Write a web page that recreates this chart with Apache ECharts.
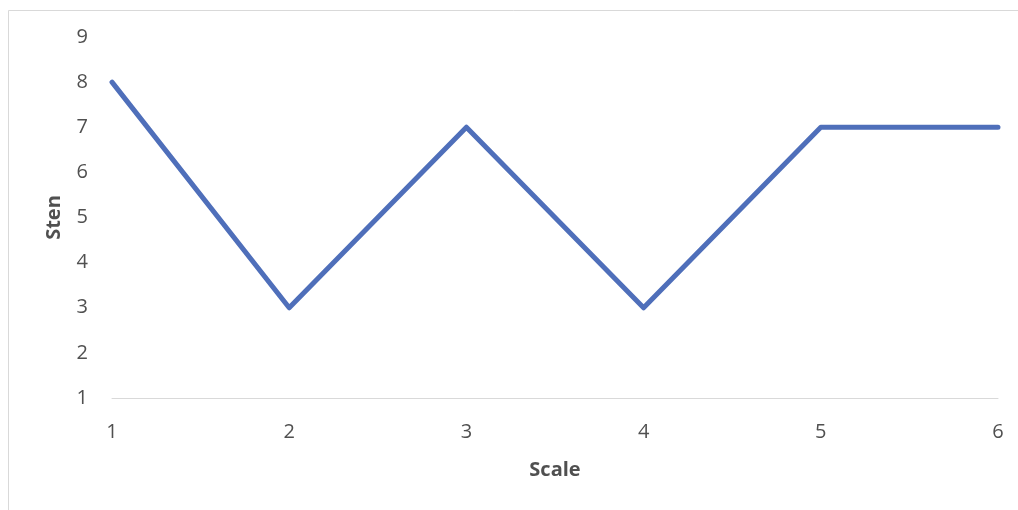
<!DOCTYPE html>
<html><head><meta charset="utf-8">
<script src="https://cdn.jsdelivr.net/npm/echarts@6/dist/echarts.min.js"></script>
<style>html,body{margin:0;padding:0;background:#fff}#c{width:1018px;height:510px}</style>
</head><body><div id="c"></div>
<script>
const categories = ['1','2','3','4','5','6'];
const stenValues = [8, 3, 7, 3, 7, 7];
const yTicks = [1,2,3,4,5,6,7,8,9];

const chart = echarts.init(document.getElementById('c'));
const txt = '#505050';
chart.setOption({
  animation: false,
  backgroundColor: '#fff',
  graphic: [{
    type: 'rect', shape: {x: 8.5, y: 10.5, width: 1100, height: 600},
    style: {fill: 'none', stroke: '#d9d9d9', lineWidth: 1}, silent: true
  }],
  grid: {left: 112, right: 20, top: 37, bottom: 112},
  xAxis: {
    type: 'category', data: categories, boundaryGap: false,
    name: 'Scale', nameLocation: 'middle', nameGap: 62,
    nameTextStyle: {color: txt, fontSize: 20, fontWeight: 'bold', fontFamily: 'Open Sans'},
    axisLine: {lineStyle: {color: '#d9d9d9', width: 1}},
    axisTick: {show: false},
    axisLabel: {color: txt, fontSize: 20, fontFamily: 'Open Sans', margin: 24}
  },
  yAxis: {
    type: 'value', min: 1, max: 9, interval: 1,
    name: 'Sten', nameLocation: 'middle', nameGap: 48, nameRotate: 90,
    nameTextStyle: {color: txt, fontSize: 20, fontWeight: 'bold', fontFamily: 'Open Sans'},
    axisLine: {show: false}, axisTick: {show: false}, splitLine: {show: false},
    axisLabel: {color: txt, fontSize: 20, fontFamily: 'Open Sans', margin: 24,
      formatter: v => yTicks.includes(v) ? String(v) : ''}
  },
  series: [{
    type: 'line', data: stenValues, showSymbol: false,
    lineStyle: {color: '#4f6fba', width: 5, cap: 'round', join: 'round'}
  }]
});
</script></body></html>
